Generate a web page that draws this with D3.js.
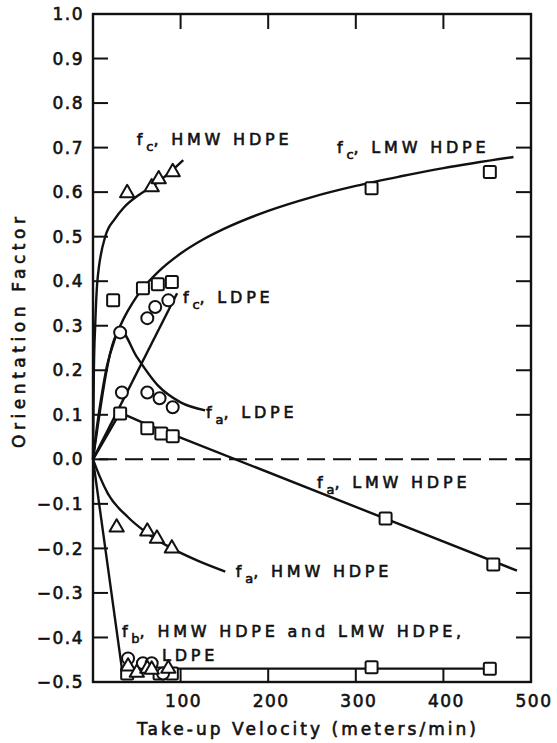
<!DOCTYPE html>
<html>
<head>
<meta charset="utf-8">
<script src="https://cdn.jsdelivr.net/npm/d3@7/dist/d3.min.js"></script>
<style>
  html, body { margin: 0; padding: 0; background: #fff; }
  svg text { font-family: "DejaVu Sans", sans-serif; fill: #111; }
</style>
</head>
<body>
<svg id="chart" width="557" height="743"></svg>
<script>
// ---- axis ticks ----
const xTickValues = [100, 200, 300, 400, 500];
const xTickLabels = ["100", "200", "300", "400", "500"];
const yTickValues = [1.0, 0.9, 0.8, 0.7, 0.6, 0.5, 0.4, 0.3, 0.2, 0.1, 0.0, -0.1, -0.2, -0.3, -0.4, -0.5];
const yTickLabels = ["1.0", "0.9", "0.8", "0.7", "0.6", "0.5", "0.4", "0.3", "0.2", "0.1", "0.0",
                     "\u22120.1", "\u22120.2", "\u22120.3", "\u22120.4", "\u22120.5"];

// ---- measured points (take-up velocity m/min, orientation factor) ----
// f_c
const hmwFcX = [39, 67, 75, 91];
const hmwFcY = [0.598, 0.611, 0.629, 0.645];
const lmwFcX = [23, 57, 74, 90, 318, 453];
const lmwFcY = [0.357, 0.384, 0.393, 0.398, 0.609, 0.645];
const ldpeFcX = [33, 62, 71, 86];
const ldpeFcY = [0.150, 0.317, 0.342, 0.357];
// f_a
const ldpeFaX = [31, 62, 76, 91];
const ldpeFaY = [0.285, 0.150, 0.137, 0.117];
const lmwFaX = [31, 62, 78, 91, 334, 457];
const lmwFaY = [0.103, 0.070, 0.058, 0.052, -0.133, -0.236];
const hmwFaX = [27, 62, 73, 90];
const hmwFaY = [-0.153, -0.162, -0.178, -0.200];
// f_b
const ldpeFbX = [40, 57, 67, 80];
const ldpeFbY = [-0.447, -0.458, -0.458, -0.481];
const hmwFbX = [40, 50, 62, 67, 86];
const hmwFbY = [-0.465, -0.479, -0.470, -0.472, -0.470];
const lmwFbX = [39, 76, 90, 318, 453];
const lmwFbY = [-0.481, -0.481, -0.481, -0.467, -0.470];

// ---- smoothed trend curves ----
const hmwFcCurveX = [0, 1, 2.5, 5, 14, 25, 35, 54, 67, 85, 103];
const hmwFcCurveY = [0, 0.20, 0.30, 0.40, 0.50, 0.54, 0.565, 0.596, 0.612, 0.64, 0.672];
const lmwFcCurveX = [0, 5, 10, 16, 25, 35, 45, 57, 75, 100, 125, 150, 200, 250, 300, 350, 400, 480];
const lmwFcCurveY = [0, 0.08, 0.145, 0.21, 0.27, 0.316, 0.351, 0.384, 0.422, 0.462, 0.493, 0.518, 0.558, 0.589, 0.614, 0.635, 0.654, 0.679];
const ldpeFcCurveX = [0, 96];
const ldpeFcCurveY = [0, 0.373];
const ldpeFaCurveX = [0, 31, 50, 74, 100, 128];
const ldpeFaCurveY = [0, 0.29, 0.23, 0.166, 0.128, 0.11];
const lmwFaCurveX = [0, 31, 62, 92, 484];
const lmwFaCurveY = [0, 0.105, 0.078, 0.055, -0.25];
const hmwFaCurveX = [0, 8, 17, 40, 60, 90, 120, 151];
const hmwFaCurveY = [0, -0.04, -0.077, -0.13, -0.163, -0.2, -0.228, -0.252];
const fbCurveX = [0, 33, 453];
const fbCurveY = [0, -0.47, -0.47];

// ---- curve labels: main symbol, subscript, remaining text ----
const labelSub = ["c", "c", "c", "a", "a", "a", "b"];
const labelText = [", HMW HDPE", ", LMW HDPE", ", LDPE", ", LDPE", ", LMW HDPE", ", HMW HDPE", ", HMW HDPE and LMW HDPE,"];
const labelX = [50, 278.5, 102.7, 129, 255.7, 163, 33];
const labelY = [0.705, 0.688, 0.350, 0.092, -0.065, -0.265, -0.400];

(function draw() {
  const svg = d3.select("#chart");
  const pL = 93, pR = 531, pT = 14, pB = 682;

  const x = d3.scaleLinear().domain([0, 500]).range([pL, pR]);
  const y = d3.scaleLinear().domain([-0.5, 1.0]).range([pB, pT]);

  const zip = (xs, ys) => xs.map((v, i) => [v, ys[i]]);

  // ---- frame ----
  svg.append("rect")
    .attr("x", pL).attr("y", pT)
    .attr("width", pR - pL).attr("height", pB - pT)
    .attr("fill", "none").attr("stroke", "#111").attr("stroke-width", 2.4);

  // inward ticks on all four sides
  const yTickLen = 15, xTickLen = 13;
  const tickG = svg.append("g").attr("stroke", "#111").attr("stroke-width", 2);
  yTickValues.filter(v => v > -0.5 && v < 1.0).forEach(v => {
    tickG.append("line").attr("x1", pL).attr("x2", pL + yTickLen).attr("y1", y(v)).attr("y2", y(v));
    tickG.append("line").attr("x1", pR).attr("x2", pR - yTickLen).attr("y1", y(v)).attr("y2", y(v));
  });
  xTickValues.filter(v => v < 500).forEach(v => {
    tickG.append("line").attr("x1", x(v)).attr("x2", x(v)).attr("y1", pB).attr("y2", pB - xTickLen);
    tickG.append("line").attr("x1", x(v)).attr("x2", x(v)).attr("y1", pT).attr("y2", pT + xTickLen + 2);
  });

  // tick labels
  svg.append("g").selectAll("text").data(yTickValues).join("text")
    .attr("x", 84).attr("y", d => y(d)).attr("dy", "0.36em")
    .attr("text-anchor", "end")
    .attr("font-size", 17).attr("letter-spacing", 1.5)
    .attr("stroke", "#111").attr("stroke-width", 0.6)
    .text((d, i) => yTickLabels[i]);

  svg.append("g").selectAll("text").data(xTickValues).join("text")
    .attr("x", d => x(d) + 3).attr("y", 707)
    .attr("text-anchor", "middle")
    .attr("font-size", 17).attr("letter-spacing", 1.5)
    .attr("stroke", "#111").attr("stroke-width", 0.6)
    .text((d, i) => xTickLabels[i]);

  // axis titles
  svg.append("text")
    .attr("x", 137).attr("y", 735)
    .attr("font-size", 17)
    .attr("textLength", 339).attr("lengthAdjust", "spacing")
    .attr("stroke", "#111").attr("stroke-width", 0.6)
    .text("Take-up Velocity (meters/min)");

  svg.append("text")
    .attr("transform", "translate(25,448) rotate(-90)")
    .attr("x", 0).attr("y", 0)
    .attr("font-size", 17)
    .attr("textLength", 231).attr("lengthAdjust", "spacing")
    .attr("stroke", "#111").attr("stroke-width", 0.6)
    .text("Orientation Factor");

  // zero reference line
  svg.append("line")
    .attr("x1", pL).attr("x2", pR).attr("y1", y(0)).attr("y2", y(0))
    .attr("stroke", "#111").attr("stroke-width", 2)
    .attr("stroke-dasharray", "18,8").attr("stroke-dashoffset", -6);

  // ---- curves ----
  const smooth = d3.line().x(d => x(d[0])).y(d => y(d[1])).curve(d3.curveMonotoneX);
  const straight = d3.line().x(d => x(d[0])).y(d => y(d[1]));
  const curves = [
    [zip(hmwFcCurveX, hmwFcCurveY), smooth],
    [zip(lmwFcCurveX, lmwFcCurveY), smooth],
    [zip(ldpeFcCurveX, ldpeFcCurveY), straight],
    [zip(ldpeFaCurveX, ldpeFaCurveY), smooth],
    [zip(lmwFaCurveX, lmwFaCurveY), straight],
    [zip(hmwFaCurveX, hmwFaCurveY), smooth],
    [zip(fbCurveX, fbCurveY), straight]
  ];
  svg.append("g").selectAll("path").data(curves).join("path")
    .attr("d", d => d[1](d[0]))
    .attr("fill", "none").attr("stroke", "#111").attr("stroke-width", 2.4)
    .attr("stroke-linejoin", "round");

  // ---- markers ----
  const markG = svg.append("g").attr("fill", "#fff").attr("stroke", "#111").attr("stroke-width", 2);
  const tri = d3.symbol().type(d3.symbolTriangle).size(88);

  function squares(xs, ys) {
    markG.append("g").selectAll("rect").data(zip(xs, ys)).join("rect")
      .attr("x", d => x(d[0]) - 6).attr("y", d => y(d[1]) - 6)
      .attr("width", 12).attr("height", 12).attr("rx", 1.5);
  }
  function circles(xs, ys) {
    markG.append("g").selectAll("circle").data(zip(xs, ys)).join("circle")
      .attr("cx", d => x(d[0])).attr("cy", d => y(d[1])).attr("r", 6);
  }
  function triangles(xs, ys) {
    markG.append("g").selectAll("path").data(zip(xs, ys)).join("path")
      .attr("d", tri)
      .attr("stroke-linejoin", "round")
      .attr("transform", d => `translate(${x(d[0])},${y(d[1])})`);
  }

  squares(lmwFcX, lmwFcY);
  squares(lmwFaX, lmwFaY);
  squares(lmwFbX, lmwFbY);
  circles(ldpeFcX, ldpeFcY);
  circles(ldpeFaX, ldpeFaY);
  circles(ldpeFbX, ldpeFbY);
  triangles(hmwFcX, hmwFcY);
  triangles(hmwFaX, hmwFaY);
  triangles(hmwFbX, hmwFbY);

  // ---- curve labels ----
  const labG = svg.append("g")
    .attr("font-size", 16).attr("letter-spacing", 3.8)
    .attr("stroke", "#111").attr("stroke-width", 0.6);
  labelText.forEach((t, i) => {
    const tx = labG.append("text").attr("x", x(labelX[i])).attr("y", y(labelY[i]));
    tx.append("tspan").text("f");
    tx.append("tspan").attr("dy", 6).attr("font-size", 13).attr("letter-spacing", 0).text(labelSub[i]);
    tx.append("tspan").attr("dy", -6).text(t);
  });
  labG.append("text").attr("x", x(78.8)).attr("y", y(-0.452)).text("LDPE");
})();
</script>
</body>
</html>
